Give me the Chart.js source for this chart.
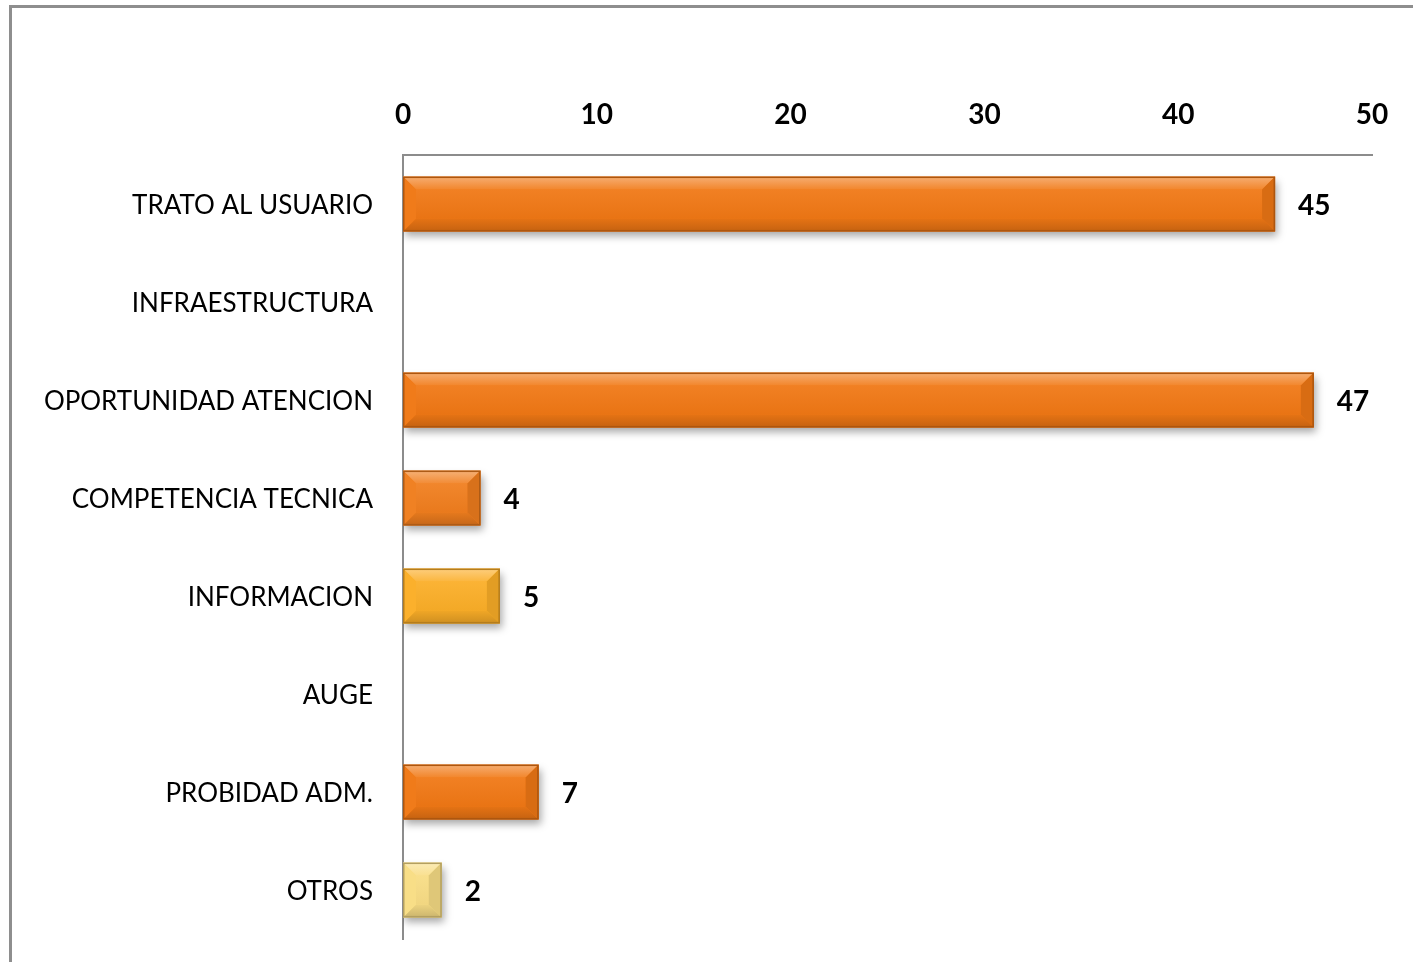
<!DOCTYPE html>
<html>
<head>
<meta charset="utf-8">
<script src="https://cdn.jsdelivr.net/npm/chart.js@4.4.1/dist/chart.umd.min.js"></script>
<style>
html,body{margin:0;padding:0;background:#fff;}
#wrap{width:1413px;height:962px;position:relative;}
</style>
</head>
<body>
<div id="wrap"><canvas id="c" width="1413" height="962"></canvas></div>
<script>
const categories = ["TRATO AL USUARIO","INFRAESTRUCTURA","OPORTUNIDAD ATENCION","COMPETENCIA TECNICA","INFORMACION","AUGE","PROBIDAD ADM.","OTROS"];
const values = [45, null, 47, 4, 5, null, 7, 2];
const xTicks = [0, 10, 20, 30, 40, 50];

const barColors = ["#F07815","#F07815","#F07815","#F07E1E","#FBAE28","#F07815","#F07815","#F8DD85"];
const FONT = "Lato, 'Open Sans', sans-serif";

function shade(hex, amt){
  const n = parseInt(hex.slice(1),16);
  let r=(n>>16)&255, g=(n>>8)&255, b=n&255;
  if(amt>=0){ r=Math.round(r+(255-r)*amt); g=Math.round(g+(255-g)*amt); b=Math.round(b+(255-b)*amt); }
  else { r=Math.round(r*(1+amt)); g=Math.round(g*(1+amt)); b=Math.round(b*(1+amt)); }
  return `rgb(${r},${g},${b})`;
}

const framePlugin = {
  id:'frame',
  beforeDraw(chart){
    const ctx = chart.ctx;
    ctx.save();
    ctx.strokeStyle = '#8e8e8e';
    ctx.lineWidth = 3;
    ctx.beginPath();
    ctx.moveTo(10.5, chart.height);
    ctx.lineTo(10.5, 6.5);
    ctx.lineTo(chart.width, 6.5);
    ctx.stroke();
    ctx.restore();
  }
};

const shadowPlugin = {
  id:'barShadow',
  beforeDatasetDraw(chart){
    const ctx = chart.ctx;
    ctx.save();
    ctx.shadowColor = 'rgba(0,0,0,0.35)';
    ctx.shadowBlur = 8;
    ctx.shadowOffsetX = 2;
    ctx.shadowOffsetY = 5;
  },
  afterDatasetDraw(chart){
    chart.ctx.restore();
  }
};

const bevelPlugin = {
  id:'bevel',
  afterDatasetsDraw(chart){
    const ctx = chart.ctx;
    const meta = chart.getDatasetMeta(0);
    meta.data.forEach((bar, i) => {
      const v = values[i];
      if (v === null || v === undefined) return;
      const x0 = bar.base, x1 = bar.x;
      const h = bar.height;
      const y0 = bar.y - h/2, y1 = bar.y + h/2;
      const w = x1 - x0;
      if (w < 1) return;
      const d = Math.min(13, w/2, h/2);
      const c = barColors[i];
      ctx.save();
      const g = ctx.createLinearGradient(0, y0+d, 0, y1-d);
      g.addColorStop(0, shade(c, 0.06));
      g.addColorStop(1, shade(c, -0.03));
      ctx.fillStyle = g;
      ctx.fillRect(x0+d, y0+d, w-2*d, h-2*d);
      const gt = ctx.createLinearGradient(0, y0, 0, y0+d);
      gt.addColorStop(0, shade(c, 0.40));
      gt.addColorStop(1, shade(c, 0.10));
      ctx.fillStyle = gt;
      ctx.beginPath();
      ctx.moveTo(x0, y0); ctx.lineTo(x1, y0); ctx.lineTo(x1-d, y0+d); ctx.lineTo(x0+d, y0+d); ctx.closePath(); ctx.fill();
      const gb = ctx.createLinearGradient(0, y1-d, 0, y1);
      gb.addColorStop(0, shade(c, -0.04));
      gb.addColorStop(1, shade(c, -0.18));
      ctx.fillStyle = gb;
      ctx.beginPath();
      ctx.moveTo(x0, y1); ctx.lineTo(x1, y1); ctx.lineTo(x1-d, y1-d); ctx.lineTo(x0+d, y1-d); ctx.closePath(); ctx.fill();
      ctx.fillStyle = shade(c, 0.02);
      ctx.beginPath();
      ctx.moveTo(x0, y0); ctx.lineTo(x0+d, y0+d); ctx.lineTo(x0+d, y1-d); ctx.lineTo(x0, y1); ctx.closePath(); ctx.fill();
      ctx.fillStyle = shade(c, -0.10);
      ctx.beginPath();
      ctx.moveTo(x1, y0); ctx.lineTo(x1-d, y0+d); ctx.lineTo(x1-d, y1-d); ctx.lineTo(x1, y1); ctx.closePath(); ctx.fill();
      ctx.strokeStyle = shade(c, -0.28);
      ctx.lineWidth = 1.5;
      ctx.strokeRect(x0+0.75, y0+0.75, w-1.5, h-1.5);
      ctx.restore();
      ctx.save();
      ctx.fillStyle = '#000';
      ctx.font = "bold 28px " + FONT;
      ctx.textAlign = 'left';
      ctx.textBaseline = 'middle';
      ctx.fillText(String(v), x1 + 23, bar.y + 2);
      ctx.restore();
    });
  }
};

new Chart(document.getElementById('c'), {
  type:'bar',
  data:{
    labels: categories,
    datasets:[{
      data: values,
      backgroundColor: barColors,
      borderWidth: 0,
      categoryPercentage: 1.0,
      barPercentage: 0.56
    }]
  },
  options:{
    indexAxis:'y',
    responsive:false,
    animation:false,
    layout:{padding:{left:0, top:0, right:41, bottom:23}},
    plugins:{legend:{display:false}, tooltip:{enabled:false}},
    scales:{
      x:{
        position:'top',
        min:0, max:50,
        afterBuildTicks(scale){ scale.ticks = xTicks.map(v => ({value:v})); },
        afterFit(scale){ scale.height = 155; scale.paddingLeft = 0; scale.paddingRight = 0; },
        grid:{display:false, drawTicks:false},
        border:{display:true, color:'#8c8c8c', width:2},
        ticks:{color:'#000', padding:23, font:{family:FONT, size:28, weight:'bold'}}
      },
      y:{
        afterFit(scale){ scale.width = 403; scale.paddingTop = 0; scale.paddingBottom = 0; },
        grid:{display:false, drawTicks:false},
        border:{display:true, color:'#8c8c8c', width:2},
        ticks:{color:'#000', padding:30, labelOffset:2, font:{family:FONT, size:26}}
      }
    }
  },
  plugins:[framePlugin, shadowPlugin, bevelPlugin]
});
</script>
</body>
</html>
